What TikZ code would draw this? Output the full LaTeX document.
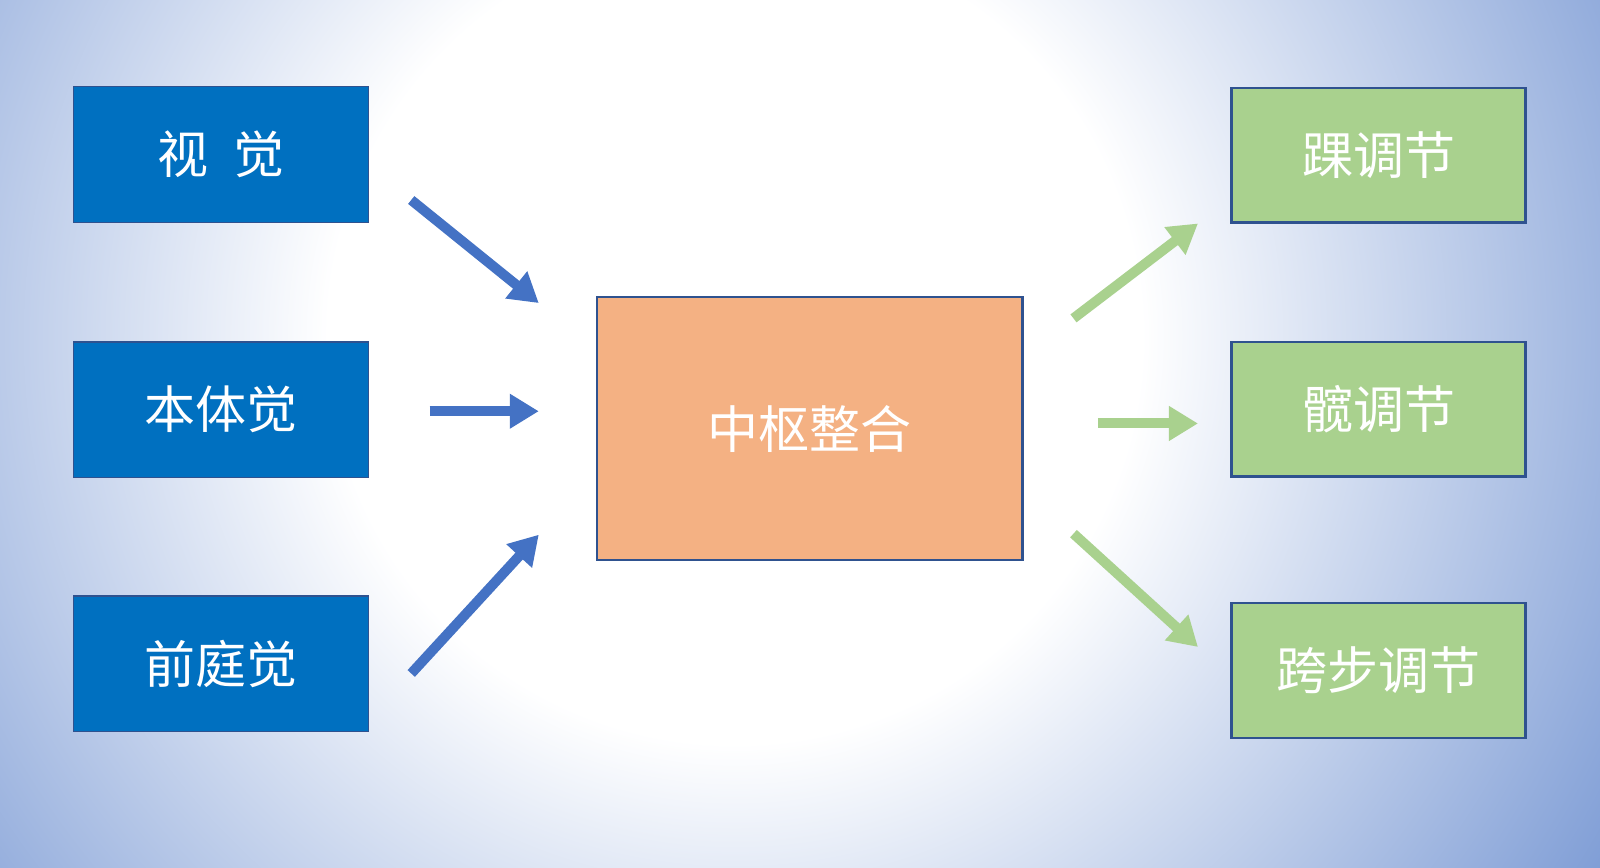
\documentclass[tikz,border=0pt]{standalone}
\usepackage{fontspec}
\setmainfont{Noto Sans CJK SC}
\usetikzlibrary{arrows.meta}
\definecolor{bgdark}{RGB}{128,158,214}
\definecolor{boxblue}{RGB}{0,112,192}
\definecolor{boxedge}{RGB}{47,82,143}
\definecolor{boxorange}{RGB}{244,177,131}
\definecolor{boxgreen}{RGB}{169,209,142}
\definecolor{arrblue}{RGB}{68,114,196}
\pgfdeclareradialshading{bgshade}{\pgfpointorigin}{color(0bp)=(white); color(10bp)=(white); color(25bp)=(bgdark); color(50bp)=(bgdark)}
\begin{document}
\begin{tikzpicture}[x=0.5102pt,y=-0.5102pt,
  sbox/.style={rectangle, draw=boxedge, line width=0.8pt, text=white, font=\fontsize{25.5pt}{30pt}\selectfont, inner sep=0pt},
  leftbox/.style={sbox, fill=boxblue, minimum width=147.4pt, minimum height=67.9pt},
  rightbox/.style={sbox, fill=boxgreen, line width=1.2pt, minimum width=146.9pt, minimum height=67.3pt},
  midbox/.style={sbox, fill=boxorange, line width=1.1pt, minimum width=212.7pt, minimum height=131.6pt},
  barrow/.style={draw=arrblue, line width=5pt, -{Triangle[length=14.5pt,width=16.5pt]}},
  garrow/.style={draw=boxgreen, line width=5pt, -{Triangle[length=14.5pt,width=16.5pt]}}]
\useasboundingbox (0,0) rectangle (1568,850.6);
\begin{scope}
\clip (0,0) rectangle (1568,850.6);
\shade[shading=bgshade] (720,330) circle [radius=508pt];
\end{scope}
% left boxes
\node[leftbox] (vis) at (216.5,151.5) {视\hspace{0.5em}觉};
\node[leftbox] (pro) at (216.5,401.5) {本体觉};
\node[leftbox] (ves) at (216.5,650.5) {前庭觉};
% center
\node[midbox] (cen) at (793.5,420) {中枢整合};
% right boxes
\node[rightbox] (ank) at (1351,152) {踝调节};
\node[rightbox] (hip) at (1351,401) {髋调节};
\node[rightbox] (stp) at (1351,657) {跨步调节};
% arrow end points
\coordinate (a1s) at (403,196);
\coordinate (a1e) at (528,297);
\coordinate (a2s) at (421,403);
\coordinate (a2e) at (528,403);
\coordinate (a3s) at (403,660);
\coordinate (a3e) at (528,524);
\coordinate (g1s) at (1052,312);
\coordinate (g1e) at (1174,219);
\coordinate (g2s) at (1076,415);
\coordinate (g2e) at (1174,415);
\coordinate (g3s) at (1052,523);
\coordinate (g3e) at (1174,634);
\draw[barrow] (a1s) -- (a1e);
\draw[barrow] (a2s) -- (a2e);
\draw[barrow] (a3s) -- (a3e);
\draw[garrow] (g1s) -- (g1e);
\draw[garrow] (g2s) -- (g2e);
\draw[garrow] (g3s) -- (g3e);
\end{tikzpicture}
\end{document}
